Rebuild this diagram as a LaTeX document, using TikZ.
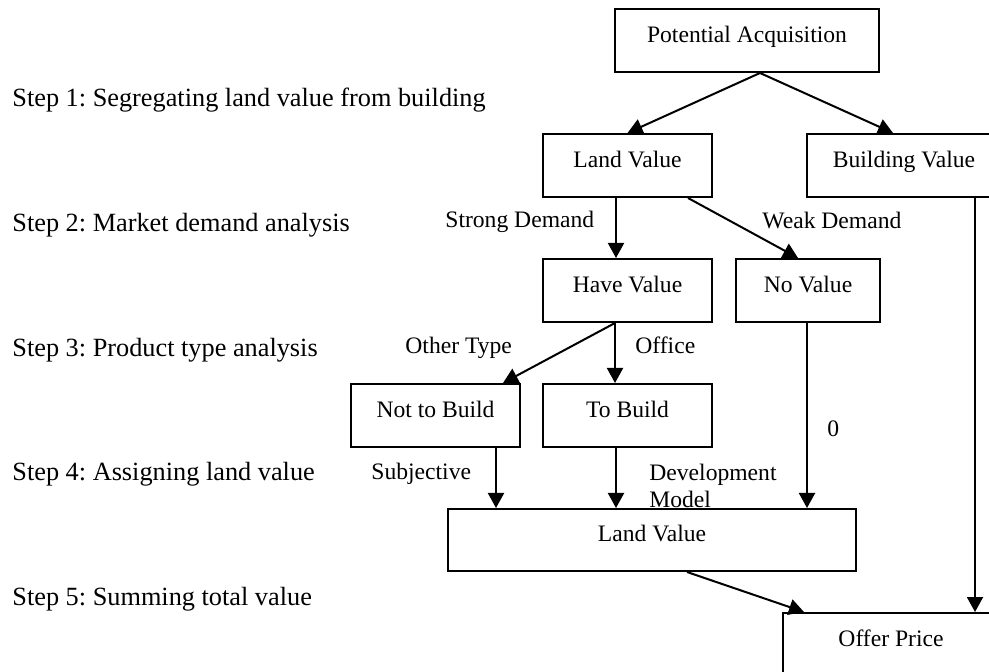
\documentclass[tikz,border=0pt]{standalone}
\usepackage{fontspec}
\setmainfont{Liberation Serif}
\usetikzlibrary{arrows.meta,calc}
\frenchspacing

\newcommand\stepfont{\fontsize{13.15pt}{16pt}\selectfont}
\newcommand\labfont{\fontsize{11.8pt}{13.5pt}\selectfont}

\tikzset{
  box/.style={draw, line width=1pt, rectangle, inner sep=0pt,
    minimum height=31.5pt, text height=8pt, text depth=6pt,
    font=\labfont, align=center},
  arr/.style={line width=1pt, -{Triangle[length=7.5pt,width=8pt]}},
  lab/.style={inner sep=0pt, anchor=base west, font=\labfont},
  steplab/.style={inner sep=0pt, anchor=base west, font=\stepfont},
}

\begin{document}
\begin{tikzpicture}[x=0.5pt, y=-0.5pt]
  \useasboundingbox (0,0) rectangle (989,672);
  \fill[white] (0,0) rectangle (989,672);
  \clip (0,0) rectangle (989,672);

  % step descriptions on the left
  \node[steplab] (s1) at (12,107) {Step 1: Segregating land value from building};
  \node[steplab] (s2) at (12,232) {Step 2: Market demand analysis};
  \node[steplab] (s3) at (12,357) {Step 3: Product type analysis};
  \node[steplab] (s4) at (12,481) {Step 4: Assigning land value};
  \node[steplab] (s5) at (12,605) {Step 5: Summing total value};

  % boxes
  \node[box, minimum width=132pt] (pa)  at (747,40.5)   {Potential Acquisition};
  \node[box, minimum width=84.5pt] (lv1) at (627.5,165.5) {Land Value};
  \node[box, minimum width=97pt]  (bv)  at (904,165.5)   {Building Value};
  \node[box, minimum width=84.5pt] (hv) at (627.5,290.5) {Have Value};
  \node[box, minimum width=72pt]  (nv)  at (808,290.5)   {No Value};
  \node[box, minimum width=84.5pt] (ntb) at (435.5,415.5) {Not to Build};
  \node[box, minimum width=84.5pt] (tb) at (627.5,415.5) {To Build};
  \node[box, minimum width=204pt, minimum height=31pt] (lv2) at (652,540) {Land Value};
  \node[box, minimum width=108pt] (op)  at (891,644.5)   {Offer Price};

  % branch labels
  \node[lab] (strong) at (445,228) {Strong Demand};
  \node[lab] (weak)   at (762,229) {Weak Demand};
  \node[lab] (other)  at (405,354) {Other Type};
  \node[lab] (office) at (635,354) {Office};
  \node[lab] (zero)   at (827,437) {0};
  \node[lab] (subj)   at (371,480) {Subjective};
  \node[lab] (dev)    at (649,481) {Development};
  \node[lab] (model)  at (649,508) {Model};

  % connector start points along the box edges
  \coordinate (c1) at ([xshift=6.5pt]pa.south);
  \coordinate (c3) at ([xshift=-5.75pt]lv1.south);
  \coordinate (c4) at ([xshift=30.25pt]lv1.south);
  \coordinate (c5) at ([xshift=-6.25pt]hv.south);
  \coordinate (c7) at ([xshift=30.25pt]ntb.south);
  \coordinate (c8) at ([xshift=-5.75pt]tb.south);
  \coordinate (c9) at ([xshift=-0.5pt]nv.south);
  \coordinate (c10) at ([xshift=35.5pt]bv.south);
  \coordinate (c11) at ([xshift=17.5pt]lv2.south);

  % connectors
  \draw[arr] (c1) -- (lv1.north);
  \draw[arr] (c1) -- ([xshift=-5.5pt]bv.north);
  \draw[arr] (c3) -- (c3 |- hv.north);
  \draw[arr] (c4) -- ([xshift=-5pt]nv.north);
  \draw[arr] (c5) -- ([xshift=33.75pt]ntb.north);
  \draw[arr] (c5) -- (c5 |- tb.north);
  \draw[arr] (c7) -- (c7 |- lv2.north);
  \draw[arr] (c8) -- (c8 |- lv2.north);
  \draw[arr] (c9) -- (c9 |- lv2.north);
  \draw[arr] (c10) -- (c10 |- op.north);
  \draw[arr] (c11) -- ([xshift=11pt]op.north west);
\end{tikzpicture}
\end{document}
